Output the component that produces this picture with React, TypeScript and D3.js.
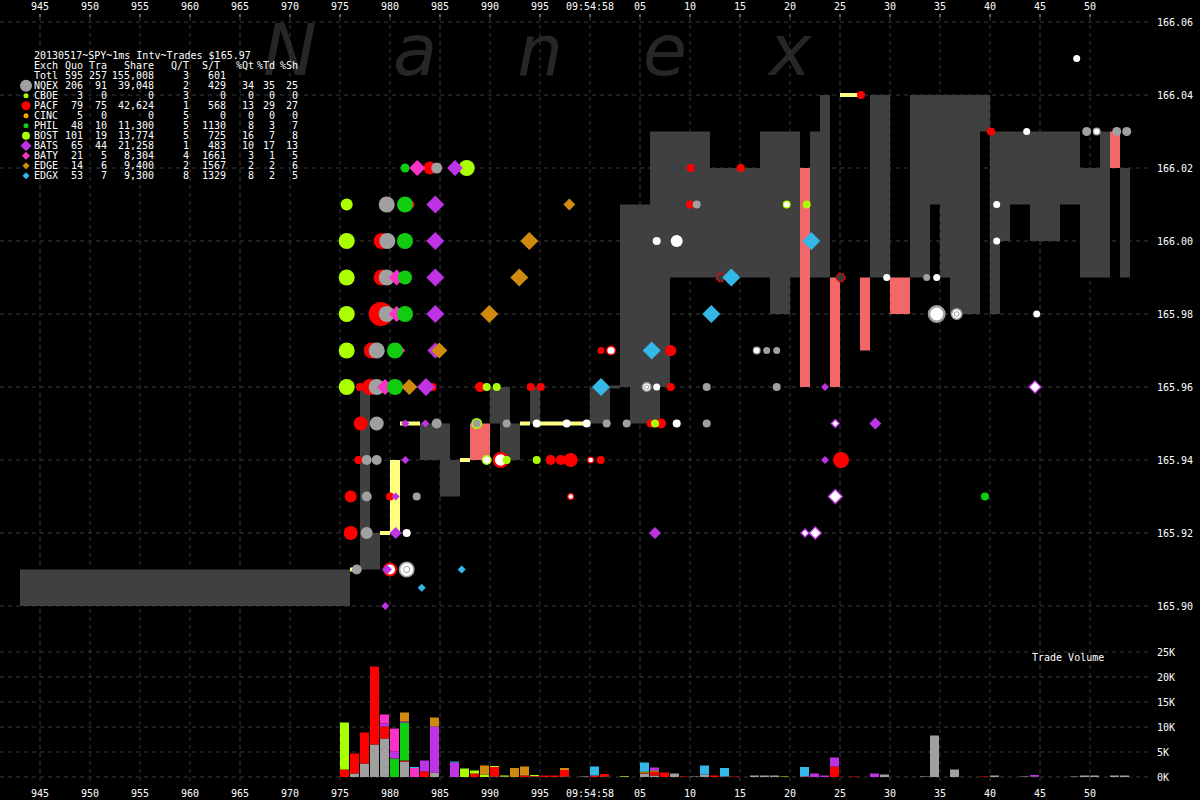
import React from 'react';
import * as d3 from 'd3';

// ---------- axes / ticks ----------
const timeTicks = d3.range(945, 1051, 5);
const priceTicks = [165.9, 165.92, 165.94, 165.96, 165.98, 166.0, 166.02, 166.04, 166.06];
const volTicks = [0, 5000, 10000, 15000, 20000, 25000];

// ---------- legend table ----------
const titleLine = '20130517~SPY~1ms Intv~Trades $165.97';
const headerRow = ['Exch', 'Quo', 'Tra', 'Share', 'Q/T', 'S/T', '%Qt', '%Td', '%Sh'];
const totalRow = ['Totl', '595', '257', '155,008', '3', '601', '', '', ''];
const exchanges = ['NQEX', 'CBOE', 'PACF', 'CINC', 'PHIL', 'BOST', 'BATS', 'BATY', 'EDGE', 'EDGX'];
const exQuotes = [206, 3, 79, 5, 48, 101, 65, 21, 14, 53];
const exTrades = [91, 0, 75, 0, 10, 19, 44, 5, 6, 7];
const exShares = ['39,048', '0', '42,624', '0', '11,300', '13,774', '21,258', '8,304', '9,400', '9,300'];
const exQT = [2, 3, 1, 5, 5, 5, 1, 4, 2, 8];
const exST = [429, 0, 568, 0, 1130, 725, 483, 1661, 1567, 1329];
const exPctQ = [34, 0, 13, 0, 8, 16, 10, 3, 2, 8];
const exPctT = [35, 0, 29, 0, 3, 7, 17, 1, 2, 2];
const exPctS = [25, 0, 27, 0, 7, 8, 13, 5, 6, 5];

// ---------- NBBO spread (ms start, ms end, low, high) ----------
const nbboSpread: [number, number, number, number][] = [
  [943, 976, 165.9, 165.91], [977, 978, 165.91, 165.96], [978, 979, 165.91, 165.92],
  [983, 985, 165.94, 165.95], [985, 986, 165.93, 165.95], [986, 987, 165.93, 165.94],
  [990, 991, 165.95, 165.96], [991, 992, 165.94, 165.96], [992, 993, 165.94, 165.95],
  [994, 995, 165.95, 165.96], [1000, 1002, 165.95, 165.96], [1003, 1004, 165.96, 166.01],
  [1004, 1006, 165.95, 166.01], [1006, 1007, 165.95, 166.03], [1007, 1008, 165.96, 166.03],
  [1008, 1012, 165.99, 166.03], [1012, 1017, 165.99, 166.02], [1017, 1018, 165.99, 166.03],
  [1018, 1020, 165.98, 166.03], [1020, 1021, 165.99, 166.03], [1022, 1023, 165.99, 166.03],
  [1023, 1024, 165.99, 166.04], [1028, 1030, 165.99, 166.04], [1032, 1034, 165.99, 166.04],
  [1034, 1035, 166.01, 166.04], [1035, 1036, 165.99, 166.04], [1036, 1039, 165.98, 166.04],
  [1039, 1040, 166.03, 166.04], [1040, 1041, 165.98, 166.03], [1041, 1042, 166.0, 166.03],
  [1042, 1044, 166.01, 166.03], [1044, 1047, 166.0, 166.03], [1047, 1049, 166.01, 166.03],
  [1049, 1051, 165.99, 166.02], [1051, 1052, 165.99, 166.03], [1053, 1054, 165.99, 166.02],
];
const crossedSpread: [number, number, number, number][] = [
  [988, 990, 165.94, 165.95], [1021, 1022, 165.96, 166.02], [1024, 1025, 165.96, 165.99],
  [1027, 1028, 165.97, 165.99], [1030, 1032, 165.98, 165.99], [1052, 1053, 166.02, 166.03],
];
const lockedLevels: [number, number, number][] = [
  [976, 977, 165.91], [979, 980, 165.92], [981, 983, 165.95], [987, 988, 165.94],
  [993, 994, 165.95], [995, 1000, 165.95], [1025, 1027, 166.04],
];
const lockedRange: [number, number, number, number][] = [[980, 981, 165.92, 165.94]];
const zeroSpread: [number, number, number][] = [[1002, 1003, 165.96]];

// ---------- trades / quotes: [ms, price, size, variant] ----------
// variant 0 solid, 1 hollow, 2 ringed, 3 outline only
const marksNQEX = [
  [979.67, 166.01, 8, 0], [979.73, 166.0, 8, 0], [979.67, 165.99, 8, 0], [979.67, 165.98, 8, 0],
  [978.67, 165.97, 8, 0], [978.67, 165.96, 8, 0], [984.67, 166.02, 5.5, 0], [978.67, 165.95, 7, 0],
  [984.67, 165.95, 5, 0], [988.67, 165.95, 4, 0], [991.67, 165.95, 4, 0], [1001.67, 165.95, 4, 0],
  [1003.67, 165.95, 4, 0], [977.67, 165.94, 5, 0], [978.67, 165.94, 5, 0], [977.67, 165.93, 5, 0],
  [982.67, 165.93, 4, 0], [977.67, 165.92, 6, 0], [976.67, 165.91, 5, 0], [1010.67, 166.01, 4, 0],
  [1011.67, 165.96, 4, 0], [1018.67, 165.96, 4, 0], [1011.67, 165.95, 4, 0], [1017.67, 165.97, 3.5, 0],
  [1018.67, 165.97, 3.5, 0], [1033.67, 165.99, 3.5, 0], [1049.67, 166.03, 4.5, 0],
  [1052.67, 166.03, 4.5, 0], [1053.67, 166.03, 4.5, 0],
  [1016.67, 165.97, 4, 1], [1050.67, 166.03, 4, 1], [1034.67, 165.98, 9, 1],
  [1005.67, 165.96, 5, 2], [1036.67, 165.98, 6, 2], [981.67, 165.91, 8, 2],
];
const marksPACF = [
  [984, 166.02, 6.5, 0], [982.1, 166.01, 3.5, 0], [979.17, 166.0, 8, 0], [979.17, 165.99, 8, 0],
  [979.07, 165.98, 12, 0], [978.17, 165.97, 8, 0], [977, 165.96, 4, 0], [978, 165.96, 8, 0],
  [984.27, 165.96, 4, 0], [989, 165.96, 5, 0], [994.07, 165.96, 4, 0], [995.07, 165.96, 4, 0],
  [1001.1, 165.97, 3.5, 0], [977.07, 165.95, 7, 0], [1006.07, 165.95, 4, 0], [1007.1, 165.95, 5, 0],
  [976.83, 165.94, 4, 0], [996.07, 165.94, 5, 0], [997.07, 165.94, 5, 0], [998.07, 165.94, 7, 0],
  [1001.07, 165.94, 4, 0], [976.07, 165.93, 6, 0], [980, 165.93, 4, 0], [976.07, 165.92, 7, 0],
  [1008.07, 165.97, 5.5, 0], [1008.07, 165.96, 4, 0], [1010.07, 166.02, 4, 0], [1015.07, 166.02, 4, 0],
  [1010, 166.01, 4, 0], [1025.1, 165.94, 8, 0], [1027.1, 166.04, 4, 0], [1040.1, 166.03, 4, 0],
  [1002.1, 165.97, 5, 1], [991.07, 165.94, 8, 1], [1000.07, 165.94, 3.5, 1], [998.07, 165.93, 3.5, 1],
  [980, 165.91, 7, 1],
  [1013.07, 165.99, 5, 3], [1025.07, 165.99, 5, 3],
];
const marksBOST = [
  [975.67, 166.01, 6, 0], [975.67, 166.0, 8, 0], [975.67, 165.99, 8, 0], [975.67, 165.98, 8, 0],
  [975.67, 165.97, 8, 0], [975.67, 165.96, 8, 0], [987.67, 166.02, 8, 0], [989.67, 165.96, 4, 0],
  [990.67, 165.96, 4, 0], [988.67, 165.95, 5.5, 0], [1006.5, 165.95, 4, 0], [991.67, 165.94, 4, 0],
  [994.67, 165.94, 4, 0], [1021.67, 166.01, 4, 0],
  [989.67, 165.94, 5, 1], [1019.67, 166.01, 4, 1],
];
const marksPHIL = [
  [981.5, 166.02, 4.5, 0], [981.5, 166.01, 8, 0], [981.5, 166.0, 8, 0], [981.5, 165.99, 7, 0],
  [981.5, 165.98, 8, 0], [980.5, 165.97, 8, 0], [980.5, 165.96, 8, 0], [1039.5, 165.93, 4, 0],
];
const marksBATS = [
  [986.5, 166.02, 8, 0], [984.53, 166.01, 9, 0], [984.53, 166.0, 9, 0], [984.53, 165.99, 9, 0],
  [984.53, 165.98, 9, 0], [984.53, 165.97, 8, 0], [983.6, 165.96, 9, 0], [981.53, 165.95, 4, 0],
  [983.53, 165.95, 4, 0], [981.53, 165.94, 4, 0], [980.57, 165.93, 4, 0], [980.57, 165.92, 6, 0],
  [979.7, 165.91, 5, 0], [979.53, 165.9, 4, 0], [1023.5, 165.96, 4, 0], [1023.5, 165.94, 4, 0],
  [1028.53, 165.95, 6, 0], [1006.5, 165.92, 6, 0],
  [1024.53, 165.95, 4, 1], [1024.53, 165.93, 7, 1], [1021.5, 165.92, 4, 1], [1022.53, 165.92, 6, 1],
  [1044.5, 165.96, 6, 1],
];
const marksBATY = [
  [982.73, 166.02, 8, 0], [980.67, 165.99, 8, 0], [980.67, 165.98, 8, 0], [980.83, 165.97, 7, 0],
  [979.5, 165.96, 8, 0],
];
const marksEDGE = [
  [997.93, 166.01, 6, 0], [993.93, 166.0, 9, 0], [992.93, 165.99, 9, 0], [989.93, 165.98, 9, 0],
  [984.93, 165.97, 8, 0], [981.93, 165.96, 8, 0],
];
const marksEDGX = [
  [1001.1, 165.96, 9, 0], [1006.17, 165.97, 9, 0], [1012.13, 165.98, 9, 0], [1014.13, 165.99, 9, 0],
  [1022.13, 166.0, 9, 0], [987.17, 165.91, 4, 0], [983.17, 165.905, 4, 0],
];
const marksOther = [
  [994.67, 165.95, 4, 0], [997.67, 165.95, 4, 0], [999.67, 165.95, 4, 0], [981.67, 165.92, 4, 0],
  [1006.67, 165.96, 3.5, 0], [1008.67, 165.95, 4, 0], [1006.67, 166.0, 4, 0], [1008.67, 166.0, 6, 0],
  [1029.67, 165.99, 3.5, 0], [1048.67, 166.05, 3.5, 0], [1043.67, 166.03, 3.5, 0],
  [1040.67, 166.01, 3.5, 0], [1040.67, 166.0, 3.5, 0], [1034.67, 165.99, 3.5, 0],
  [1044.67, 165.98, 3.5, 0],
];

// ---------- trade volume per ms per exchange ----------
const volNQEX = [[976, 700], [977, 2700], [978, 6500], [979, 7700], [981, 3100], [984, 900], [990, 100], [991, 100], [994, 100], [997, 100], [999, 100], [1001, 100], [1003, 100], [1005, 700], [1006, 300], [1008, 700], [1010, 100], [1011, 500], [1016, 300], [1017, 300], [1018, 300], [1029, 500], [1033, 100], [1034, 8300], [1036, 1500], [1040, 300], [1043, 100], [1044, 100], [1048, 100], [1049, 300], [1050, 300], [1052, 300], [1053, 300]];
const volPACF = [[975, 1500], [976, 4000], [977, 6200], [978, 15600], [979, 2400], [981, 200], [983, 1100], [988, 700], [990, 1900], [993, 300], [994, 100], [995, 300], [996, 300], [997, 1300], [1000, 300], [1001, 500], [1005, 200], [1006, 800], [1007, 900], [1009, 100], [1012, 300], [1013, 100], [1014, 100], [1024, 2100], [1026, 100], [1039, 100]];
const volPHIL = [[980, 3700], [981, 7600]];
const volBOST = [[975, 9400], [987, 1700], [988, 600], [989, 500], [990, 200], [991, 200], [994, 200], [1003, 100], [1005, 200], [1006, 200], [1019, 100], [1021, 100]];
const volBATS = [[979, 600], [980, 1400], [981, 200], [983, 2200], [984, 9200], [986, 2900], [1006, 600], [1021, 100], [1022, 700], [1023, 300], [1024, 1800], [1028, 700], [1044, 300]];
const volBATY = [[979, 1800], [980, 4600], [982, 1800]];
const volEDGE = [[981, 1800], [984, 1800], [989, 1800], [992, 1800], [993, 1800], [997, 400]];
const volEDGX = [[982, 200], [986, 200], [1000, 1800], [1005, 1800], [1011, 1800], [1013, 1700], [1021, 1800]];

// ---------- styling config ----------
const exColor: Record<string, string> = {
  NQEX: '#a0a0a0', CBOE: '#aaff00', PACF: '#ff0000', CINC: '#ffa000', PHIL: '#11cc11',
  BOST: '#aaff00', BATS: '#bf33e6', BATY: '#fa33c8', EDGE: '#d08a10', EDGX: '#33b8e8', OTHER: '#ffffff',
};
const exShape: Record<string, string> = {
  NQEX: 'c', CBOE: 'c', PACF: 'c', CINC: 'c', PHIL: 'c', BOST: 'c',
  BATS: 'd', BATY: 'd', EDGE: 'd', EDGX: 'd', OTHER: 'c',
};
const legendIconSize = [6, 2.5, 4.5, 2.5, 2.5, 4, 5.5, 4, 3.5, 3.5];
const markGroups: [string, number[][]][] = [
  ['OTHER', marksOther], ['PACF', marksPACF], ['BOST', marksBOST], ['NQEX', marksNQEX],
  ['BATY', marksBATY], ['PHIL', marksPHIL], ['BATS', marksBATS], ['EDGE', marksEDGE], ['EDGX', marksEDGX],
];
const volByEx: Record<string, number[][]> = {
  NQEX: volNQEX, PACF: volPACF, PHIL: volPHIL, BOST: volBOST, BATS: volBATS,
  BATY: volBATY, EDGE: volEDGE, EDGX: volEDGX,
};

const FONT = 'DejaVu Sans Mono, monospace';
const GRID = '#3a3a3a';

const x = d3.scaleLinear().domain([945, 1050]).range([40, 1090]);
const y = d3.scaleLinear().domain([165.9, 166.06]).range([606, 22]);
const yv = d3.scaleLinear().domain([0, 25000]).range([777, 652]);
const rs = d3.scaleLinear().domain([0, 10]).range([0, 10]);

const fmtTime = (t: number) => (t < 1000 ? String(t) : t === 1000 ? '09:54:58' : String(t - 1000).padStart(2, '0'));
const diamond = (cx: number, cy: number, h: number) => `M${cx},${cy - h}L${cx + h},${cy}L${cx},${cy + h}L${cx - h},${cy}Z`;

function Mark({ cx, cy, rad, shape, color, variant }: any) {
  const sw = Math.max(1.2, rad * 0.28);
  if (shape === 'd') {
    const d = diamond(cx, cy, rad);
    if (variant === 1) return <path d={d} fill="#fff" stroke={color} strokeWidth={1.3} />;
    return <path d={d} fill={color} />;
  }
  if (variant === 1) return <circle cx={cx} cy={cy} r={rad - sw / 2} fill="#fff" stroke={color} strokeWidth={sw} />;
  if (variant === 2)
    return (
      <g>
        <circle cx={cx} cy={cy} r={rad - 0.8} fill="#fff" stroke={color} strokeWidth={1.6} />
        <circle cx={cx} cy={cy} r={rad * 0.4} fill="none" stroke={color} strokeWidth={1} />
      </g>
    );
  if (variant === 3)
    return <circle cx={cx} cy={cy} r={rad - 0.7} fill="#3a3a3a" stroke={color} strokeWidth={1.4} strokeDasharray="2.5 1" />;
  return <circle cx={cx} cy={cy} r={rad} fill={color} />;
}

export default function App() {
  // volume stacking
  const volTimes = Array.from(new Set(Object.values(volByEx).flatMap((a) => a.map((d) => d[0])))).sort((a, b) => a - b);
  const volTable = volTimes.map((t) => {
    const row: any = { t };
    exchanges.forEach((e) => {
      const hit = (volByEx[e] || []).find((d) => d[0] === t);
      row[e] = hit ? hit[1] : 0;
    });
    return row;
  });
  const stacked = d3.stack().keys(exchanges)(volTable as any);

  const legendRows = exchanges.map((e, i) => [
    e, String(exQuotes[i]), String(exTrades[i]), exShares[i], String(exQT[i]), String(exST[i]),
    String(exPctQ[i]), String(exPctT[i]), String(exPctS[i]),
  ]);
  const colRight = [0, 83, 107, 154, 189, 226, 254, 275, 298];
  const rowY = (i: number) => 55.7 + i * 10;

  return (
    <svg width={1200} height={800} style={{ position: 'absolute', left: 0, top: 0, background: '#000' }} fontFamily={FONT}>
      <rect x={0} y={0} width={1200} height={800} fill="#000" />
      {/* watermark */}
      {['N', 'a', 'n', 'e', 'x'].map((c, i) => (
        <text key={i} x={290 + i * 125} y={75} fontSize={72} fontStyle="italic" fontFamily="DejaVu Sans, sans-serif" fill="#262626" textAnchor="middle">
          {c}
        </text>
      ))}
      {/* grid */}
      {timeTicks.map((t) => (
        <line key={'vg' + t} x1={x(t)} x2={x(t)} y1={17} y2={786} stroke={GRID} strokeDasharray="4 4" />
      ))}
      {priceTicks.map((p) => (
        <line key={'hg' + p} x1={0} x2={1152} y1={y(p)} y2={y(p)} stroke={GRID} strokeDasharray="4 4" />
      ))}
      {volTicks.map((v) => (
        <line key={'vv' + v} x1={0} x2={1152} y1={yv(v)} y2={yv(v)} stroke={GRID} strokeDasharray="4 4" />
      ))}
      {/* NBBO */}
      {nbboSpread.map((d, i) => (
        <rect key={'nb' + i} x={x(d[0])} width={x(d[1]) - x(d[0])} y={y(d[3])} height={y(d[2]) - y(d[3])} fill="#404040" />
      ))}
      {zeroSpread.map((d, i) => (
        <rect key={'zs' + i} x={x(d[0])} width={x(d[1]) - x(d[0])} y={y(d[2]) - 1.5} height={3} fill="#404040" />
      ))}
      {crossedSpread.map((d, i) => (
        <rect key={'cr' + i} x={x(d[0])} width={x(d[1]) - x(d[0])} y={y(d[3])} height={y(d[2]) - y(d[3])} fill="#f26868" />
      ))}
      {lockedRange.map((d, i) => (
        <rect key={'lr' + i} x={x(d[0])} width={x(d[1]) - x(d[0])} y={y(d[3])} height={y(d[2]) - y(d[3])} fill="#ffff80" />
      ))}
      {lockedLevels.map((d, i) => (
        <rect key={'lk' + i} x={x(d[0])} width={x(d[1]) - x(d[0])} y={y(d[2]) - 2} height={4} fill="#ffff80" />
      ))}
      {/* marks */}
      {markGroups.map(([ex, arr]) =>
        arr.map((m, i) => (
          <Mark key={ex + i} cx={x(m[0])} cy={y(m[1])} rad={rs(m[2])} shape={exShape[ex]} color={exColor[ex]} variant={m[3]} />
        ))
      )}
      {/* volume bars */}
      {stacked.map((layer: any) =>
        layer.map((seg: any, i: number) =>
          seg[1] - seg[0] > 0 ? (
            <rect key={layer.key + i} x={x(seg.data.t)} width={9} y={yv(seg[1])} height={yv(seg[0]) - yv(seg[1])} fill={exColor[layer.key]} />
          ) : null
        )
      )}
      {/* axis labels */}
      {timeTicks.map((t) => (
        <g key={'tl' + t}>
          <text x={x(t)} y={6} fontSize={10} fill="#fff" textAnchor="middle" dominantBaseline="central">{fmtTime(t)}</text>
          <line x1={x(t)} x2={x(t)} y1={14} y2={17} stroke="#bbb" />
          <text x={x(t)} y={793} fontSize={10} fill="#fff" textAnchor="middle" dominantBaseline="central">{fmtTime(t)}</text>
        </g>
      ))}
      {priceTicks.map((p) => (
        <text key={'pl' + p} x={1157} y={y(p)} fontSize={10} fill="#fff" dominantBaseline="central">{p.toFixed(2)}</text>
      ))}
      {volTicks.map((v) => (
        <text key={'vl' + v} x={1157} y={yv(v)} fontSize={10} fill="#fff" dominantBaseline="central">{`${v / 1000}K`}</text>
      ))}
      <text x={1032} y={657} fontSize={10} fill="#fff" dominantBaseline="central">Trade Volume</text>
      {/* legend table */}
      <text x={34} y={rowY(0)} fontSize={10} fill="#fff" dominantBaseline="central">{titleLine}</text>
      {[headerRow, totalRow, ...legendRows].map((row, ri) =>
        row.map((cell, ci) =>
          cell === '' ? null : (
            <text
              key={'lg' + ri + '-' + ci}
              x={ci === 0 ? 34 : ri === 0 && ci === 5 ? 220 : colRight[ci]}
              y={rowY(ri + 1)}
              fontSize={10}
              fill="#fff"
              textAnchor={ci === 0 ? 'start' : 'end'}
              dominantBaseline="central"
            >
              {cell}
            </text>
          )
        )
      )}
      {exchanges.map((e, i) =>
        exShape[e] === 'd' ? (
          <path key={'li' + e} d={diamond(26, rowY(i + 3), legendIconSize[i])} fill={exColor[e]} />
        ) : (
          <circle key={'li' + e} cx={26} cy={rowY(i + 3)} r={legendIconSize[i]} fill={exColor[e]} />
        )
      )}
    </svg>
  );
}
